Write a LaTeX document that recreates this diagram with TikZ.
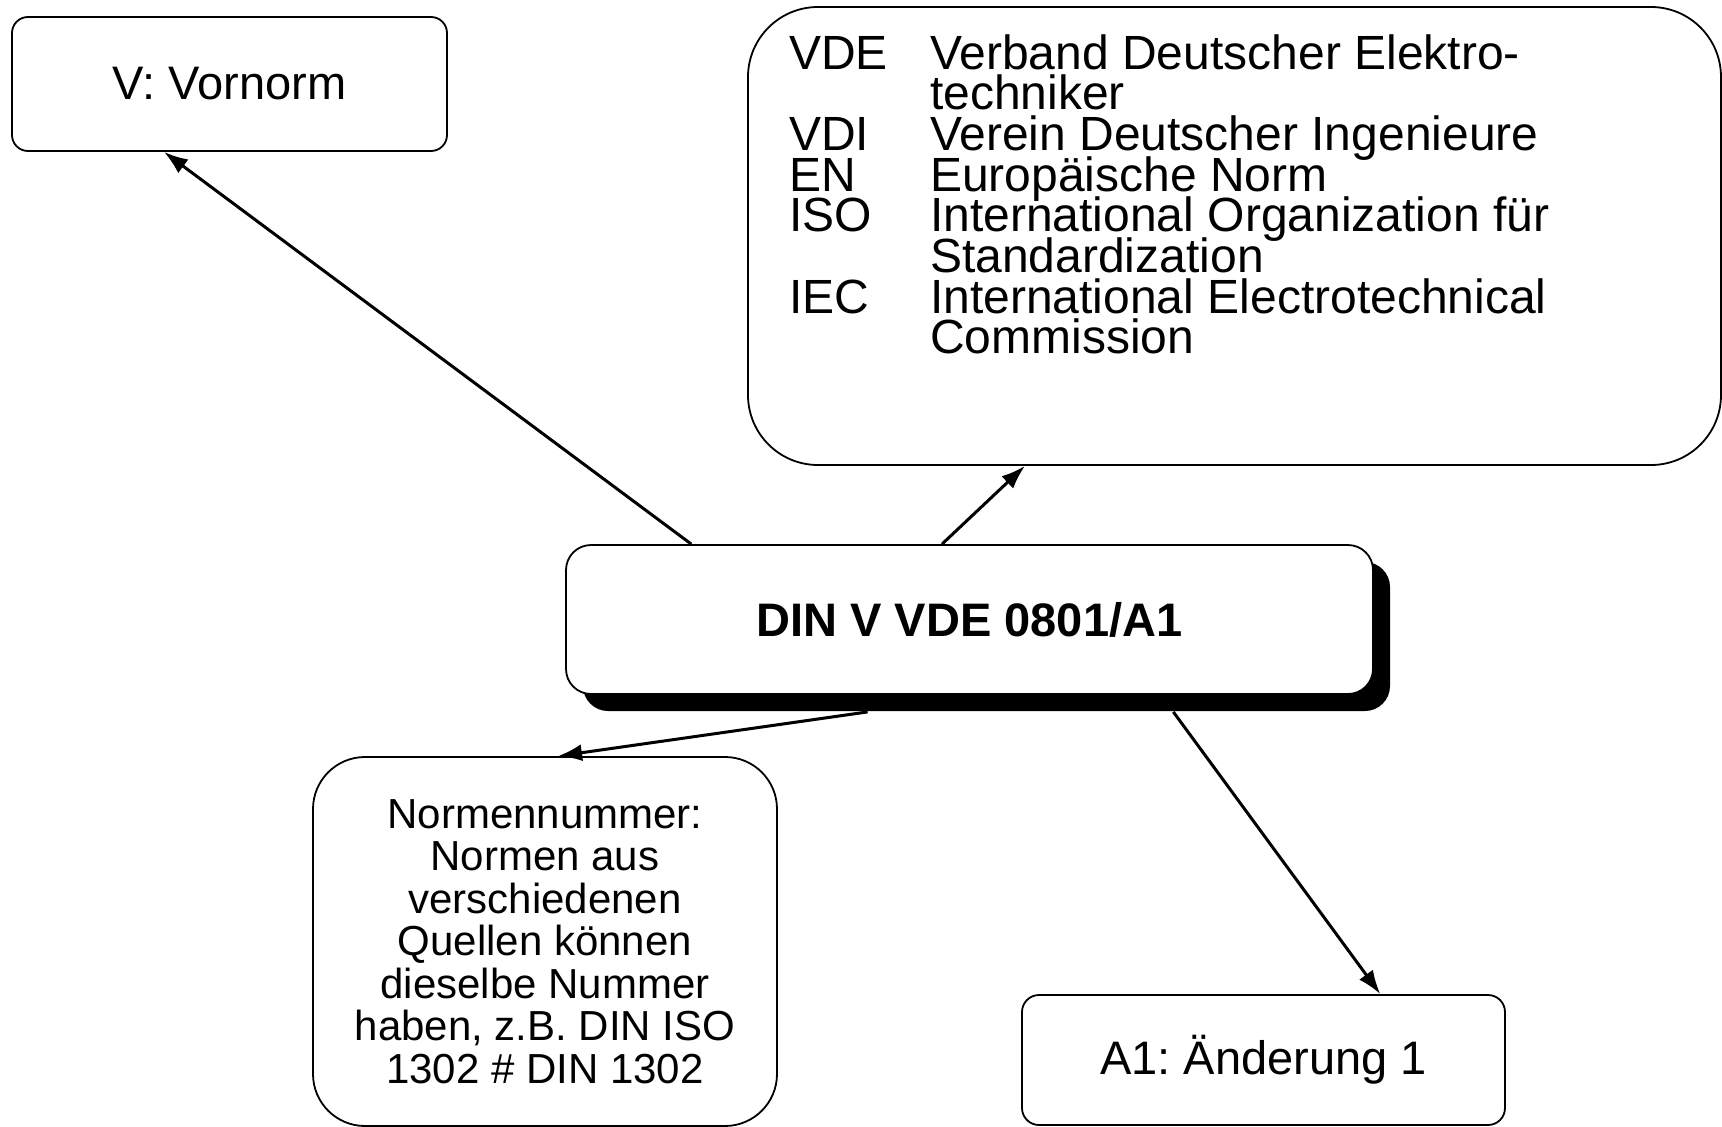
\documentclass[tikz,border=0pt]{standalone}
\usepackage{fontspec}
\setmainfont{Liberation Sans}
\usetikzlibrary{arrows.meta,shadows,calc}
\frenchspacing

\begin{document}
\begin{tikzpicture}[x=1pt,y=-1pt,
  box/.style={draw, line width=1.8pt, fill=white, inner sep=0pt},
  conn/.style={line width=3pt, -{Latex[length=24pt,width=17pt]}},
]
\useasboundingbox (0,0) rectangle (1722,1127);

\node[box, rounded corners=16pt, minimum width=435pt, minimum height=134pt,
      font=\fontsize{47}{56}\selectfont] (vn) at (229.5,84) {V: Vornorm};

\node[box, rounded corners=70pt, minimum width=973pt, minimum height=458pt] (abbr) at (1234.5,236) {};
\node[anchor=base west, inner sep=0pt, font=\fontsize{48}{40.7}\selectfont] (abbrtext) at (789,69)
  {\vtop{\lineskiplimit=-100pt
    \hbox{\makebox[141pt][l]{VDE}Verband Deutscher Elektro-}
    \hbox{\hspace*{141pt}techniker}
    \hbox{\makebox[141pt][l]{VDI}Verein Deutscher Ingenieure}
    \hbox{\makebox[141pt][l]{EN}Europäische Norm}
    \hbox{\makebox[141pt][l]{ISO}International Organization für}
    \hbox{\hspace*{141pt}Standardization}
    \hbox{\makebox[141pt][l]{IEC}International Electrotechnical}
    \hbox{\hspace*{141pt}Commission}}};

\node[box, rounded corners=25pt, minimum width=807pt, minimum height=149pt,
      font=\fontsize{47}{56}\selectfont\bfseries,
      drop shadow={shadow xshift=17pt, shadow yshift=-17pt, fill=black, opacity=1}]
      (din) at (969.5,619.5) {DIN V VDE 0801/A1};

\node[box, rounded corners=52pt, minimum width=464pt, minimum height=369pt, align=center,
      font=\fontsize{42}{42.5}\selectfont] (normen) at (545,941.5)
  {Normennummer:\\Normen aus\\verschiedenen\\Quellen können\\dieselbe Nummer\\haben, z.B. DIN ISO\\1302 \# DIN 1302};

\node[box, rounded corners=17pt, minimum width=483pt, minimum height=130pt,
      font=\fontsize{47}{56}\selectfont] (a1) at (1263.5,1060) {A1: Änderung 1};

\draw[conn] ($(din.north west)!0.156!(din.north east)$) -- ($(vn.south west)!0.35!(vn.south east)$);
\draw[conn] ($(din.north west)!0.466!(din.north east)$) -- ($(abbr.south west)!0.285!(abbr.south east)$);
\draw[conn] ($(din.south west)!0.374!(din.south east)+(0,17)$) -- ($(normen.north west)!0.528!(normen.north east)$);
\draw[conn] ($(din.south west)!0.752!(din.south east)+(0,17)$) -- ($(a1.north west)!0.741!(a1.north east)$);
\end{tikzpicture}
\end{document}
